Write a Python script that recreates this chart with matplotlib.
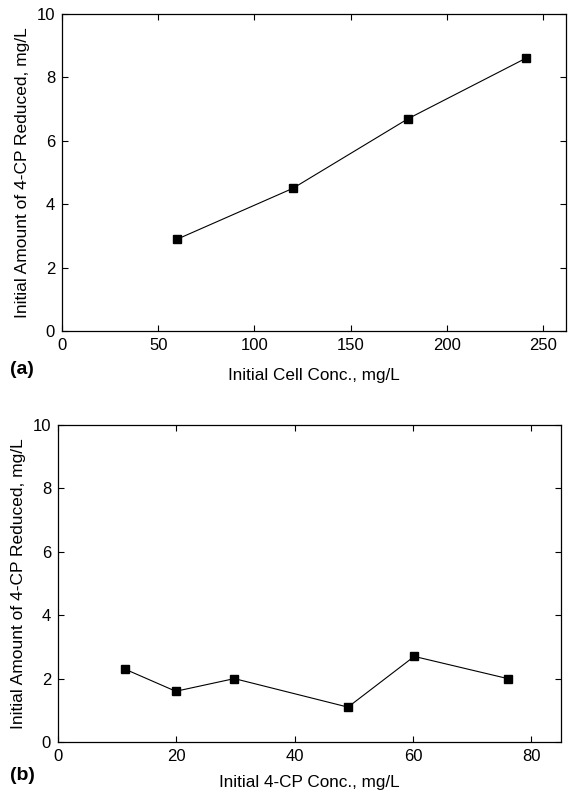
import matplotlib
matplotlib.use("Agg")
import matplotlib.pyplot as plt

plt.rcParams["font.family"] = ["Liberation Sans", "DejaVu Sans"]

# (a) initial cell concentration vs 4-CP reduced
cell_conc = [60, 120, 180, 241]
cp_reduced_a = [2.9, 4.5, 6.7, 8.6]

# (b) initial 4-CP concentration vs 4-CP reduced
cp_conc = [11.3, 19.9, 29.8, 49.0, 60.2, 76.0]
cp_reduced_b = [2.3, 1.6, 2.0, 1.1, 2.7, 2.0]

ylabel = "Initial Amount of 4-CP Reduced, mg/L"

fig = plt.figure(figsize=(5.71, 7.95), dpi=100)
W, H = 571, 795

ax1 = fig.add_axes([62 / W, 1 - 331 / H, (566 - 62) / W, (331 - 14) / H])
ax2 = fig.add_axes([58 / W, 1 - 742 / H, (561 - 58) / W, (742 - 425) / H])


def style(ax):
    ax.tick_params(direction="in", top=True, right=True, length=4, width=0.8,
                   labelsize=12, pad=5)
    for s in ax.spines.values():
        s.set_linewidth(0.9)


ax1.plot(cell_conc, cp_reduced_a, color="black", lw=0.8, marker="s", ms=6)
ax1.set_xlim(0, 262)
ax1.set_ylim(0, 10)
ax1.set_xticks([0, 50, 100, 150, 200, 250])
ax1.set_yticks([0, 2, 4, 6, 8, 10])
ax1.set_xlabel("Initial Cell Conc., mg/L", fontsize=12.3, labelpad=11)
ax1.set_ylabel(ylabel, fontsize=12.5, labelpad=5)
style(ax1)

ax2.plot(cp_conc, cp_reduced_b, color="black", lw=0.8, marker="s", ms=6)
ax2.set_xlim(0, 85)
ax2.set_ylim(0, 10)
ax2.set_xticks([0, 20, 40, 60, 80])
ax2.set_yticks([0, 2, 4, 6, 8, 10])
ax2.set_xlabel("Initial 4-CP Conc., mg/L", fontsize=12.3, labelpad=8)
ax2.set_ylabel(ylabel, fontsize=12.5, labelpad=5)
style(ax2)

fig.text(10 / W, 1 - 370 / H, "(a)", fontsize=14, fontweight="bold", va="center")
fig.text(10 / W, 1 - 775 / H, "(b)", fontsize=14, fontweight="bold", va="center")

fig.savefig("out.png", dpi=100)
